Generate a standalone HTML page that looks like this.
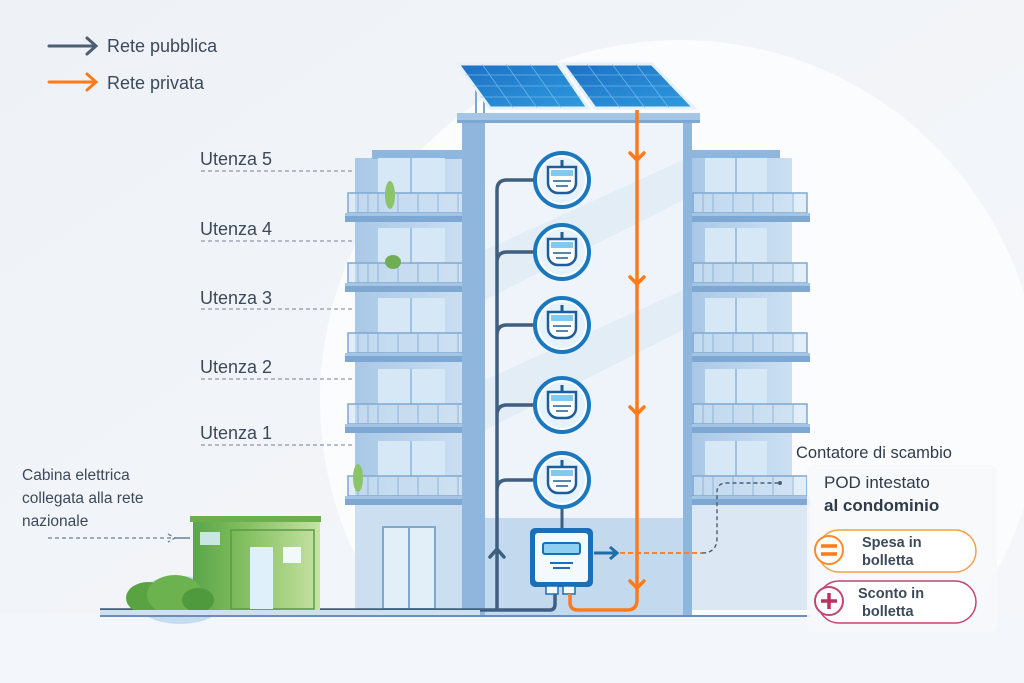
<!DOCTYPE html>
<html><head><meta charset="utf-8"><style>
html,body{margin:0;padding:0;background:#f3f6fa;width:1024px;height:683px;overflow:hidden;}
svg{display:block;font-family:"Liberation Sans",sans-serif;}
</style></head><body>
<svg width="1024" height="683" viewBox="0 0 1024 683" xmlns="http://www.w3.org/2000/svg">
<defs>
<linearGradient id="bg" x1="0" y1="0" x2="1" y2="1"><stop offset="0" stop-color="#eef2f7"/><stop offset="1" stop-color="#f5f7fa"/></linearGradient>
<linearGradient id="wall" x1="0" y1="0" x2="1" y2="0"><stop offset="0" stop-color="#a9c8e6"/><stop offset="1" stop-color="#cde0f2"/></linearGradient>
<linearGradient id="green" x1="0" y1="0" x2="1" y2="0"><stop offset="0" stop-color="#5aa54c"/><stop offset="0.35" stop-color="#7dbb5a"/><stop offset="1" stop-color="#c7e3a3"/></linearGradient>
<linearGradient id="panel" x1="0" y1="0" x2="1" y2="1"><stop offset="0" stop-color="#1e6fc2"/><stop offset="1" stop-color="#2d9be0"/></linearGradient>
<g id="balL">
 <rect x="378" y="-35" width="67" height="35" fill="#d6e7f6"/>
 <line x1="411" y1="-35" x2="411" y2="0" stroke="#9ec2e2" stroke-width="2"/>
 <rect x="348" y="0" width="120" height="20" fill="#d0e3f4" fill-opacity="0.6" stroke="#7fa8d0" stroke-width="1.5"/>
 <path d="M358 0v20M368 0v20M378 0v20M398 0v20M418 0v20M438 0v20M458 0v20" stroke="#8fb4d8" stroke-width="1"/>
 <rect x="345" y="20" width="126" height="9" fill="#7ea8d2"/>
 <rect x="345" y="20" width="126" height="3" fill="#a5c5e4"/>
</g>
<g id="balR">
 <rect x="705" y="-35" width="62" height="35" fill="#d6e7f6"/>
 <line x1="736" y1="-35" x2="736" y2="0" stroke="#9ec2e2" stroke-width="2"/>
 <rect x="693" y="0" width="114" height="20" fill="#d0e3f4" fill-opacity="0.6" stroke="#7fa8d0" stroke-width="1.5"/>
 <path d="M703 0v20M713 0v20M733 0v20M753 0v20M773 0v20M793 0v20" stroke="#8fb4d8" stroke-width="1"/>
 <rect x="692" y="20" width="118" height="9" fill="#7ea8d2"/>
 <rect x="692" y="20" width="118" height="3" fill="#a5c5e4"/>
</g>
<g id="meter">
 <circle r="27" fill="#ffffff" stroke="#1a78bf" stroke-width="4"/>
 <circle r="23" fill="#e6f3fc"/>
 <rect x="-1.5" y="-20" width="3" height="7" fill="#1e5d99"/>
 <path d="M-14 -13h28v16a10 10 0 0 1 -10 10h-8a10 10 0 0 1 -10 -10z" fill="#fff" stroke="#1e5d99" stroke-width="2.5"/>
 <rect x="-11" y="-10" width="22" height="6" fill="#7fcaf0"/>
 <path d="M-9 1h18M-6 6h12" stroke="#1e5d99" stroke-width="1.5"/>
</g>
<g id="ah"><path d="M-7 -7L0 0L7 -7" fill="none" stroke="#ff7a1a" stroke-width="3.5" stroke-linecap="round"/></g>
</defs>
<rect width="1024" height="683" fill="url(#bg)"/>
<circle cx="680" cy="400" r="360" fill="#fbfcfe"/>
<rect x="0" y="615" width="1024" height="68" fill="#f3f6fa"/>

<path d="M49 46H95M87 38L96 46L87 54" fill="none" stroke="#4b5e74" stroke-width="3" stroke-linecap="round"/>
<path d="M49 82H95M87 74L96 82L87 90" fill="none" stroke="#ff7a1a" stroke-width="3" stroke-linecap="round"/>
<text x="107" y="52" font-size="18" fill="#3d4a5a">Rete pubblica</text>
<text x="107" y="89" font-size="18" fill="#3d4a5a">Rete privata</text>

<g font-size="18" fill="#3d4a5a">
<text x="200" y="165">Utenza 5</text><text x="200" y="235">Utenza 4</text><text x="200" y="304">Utenza 3</text><text x="200" y="373">Utenza 2</text><text x="200" y="439">Utenza 1</text>
</g>
<g stroke="#8d99a8" stroke-width="1.2" stroke-dasharray="4 3">
<path d="M201 171H387M201 241H366M201 309H366M201 379H366M201 445H366"/>
</g>

<rect x="355" y="158" width="116" height="452" fill="url(#wall)"/>
<rect x="372" y="150" width="100" height="9" fill="#8fb6dc"/>
<use href="#balL" y="193"/><use href="#balL" y="263"/><use href="#balL" y="333"/><use href="#balL" y="404"/><use href="#balL" y="476"/>
<rect x="355" y="505" width="116" height="105" fill="#cbdff1"/>
<rect x="383" y="527" width="52" height="82" fill="#e2eff9" stroke="#7fa8d0" stroke-width="2"/>
<line x1="409" y1="527" x2="409" y2="609" stroke="#7fa8d0" stroke-width="2"/>
<ellipse cx="390" cy="195" rx="5" ry="14" fill="#8cc46a"/>
<ellipse cx="393" cy="262" rx="8" ry="7" fill="#6fae57"/>
<ellipse cx="358" cy="478" rx="5" ry="14" fill="#8cc46a"/>

<rect x="692" y="158" width="100" height="452" fill="url(#wall)"/>
<rect x="692" y="150" width="88" height="8" fill="#8fb6dc"/>
<use href="#balR" y="193"/><use href="#balR" y="263"/><use href="#balR" y="333"/><use href="#balR" y="404"/><use href="#balR" y="476"/>
<rect x="692" y="505" width="118" height="105" fill="#dbe8f4"/>

<rect x="462" y="122" width="230" height="493" fill="#8fb6dc"/>
<rect x="485" y="122" width="198" height="493" fill="#eef4fa"/>
<path d="M485 250L683 160V200L485 300Z M485 380L683 290V330L485 430Z" fill="#dde9f4" opacity="0.7"/>
<rect x="485" y="518" width="198" height="97" fill="#c3d9ee"/>
<rect x="457" y="113" width="243" height="10" fill="#a5c5e4"/>
<rect x="457" y="120" width="243" height="3" fill="#7ea8d2"/>

<path d="M476 88L476 113M484 100L484 113" stroke="#7ea8d2" stroke-width="2"/>
<polygon points="458,64 558,64 588,108 490,108" fill="url(#panel)" stroke="#e6f1fb" stroke-width="3"/>
<polygon points="563,64 652,64 694,108 595,108" fill="url(#panel)" stroke="#e6f1fb" stroke-width="3"/>
<g stroke="#8cc8f2" stroke-width="0.8" opacity="0.7">
<path d="M465 75H566M473 86H574M480 97H581M482 64L513 108M506 64L537 108M530 64L561 108"/>
<path d="M571 75H662M579 86H672M587 97H683M587 64L620 108M612 64L645 108M636 64L669 108"/>
</g>

<path d="M100 610H550Q555 610 555 604V592" fill="none" stroke="#3f5f80" stroke-width="3.5"/>
<path d="M497 610V190Q497 180 507 180H536 M497 262Q497 252 507 252H536 M497 335Q497 325 507 325H536 M497 415Q497 405 507 405H536 M497 490Q497 480 507 480H536" fill="none" stroke="#3f5f80" stroke-width="3.5"/>
<path d="M490 557L497 549L504 557" fill="none" stroke="#3f5f80" stroke-width="3.5" stroke-linecap="round"/>
<line x1="562" y1="500" x2="562" y2="530" stroke="#3f5f80" stroke-width="3"/>
<use href="#meter" x="562" y="180"/><use href="#meter" x="562" y="252"/><use href="#meter" x="562" y="325"/><use href="#meter" x="562" y="405"/><use href="#meter" x="562" y="480"/>

<rect x="530" y="528" width="63" height="59" rx="5" fill="#1a6fb8"/>
<rect x="535" y="533" width="53" height="49" rx="3" fill="#f4f9fd"/>
<rect x="543" y="543" width="37" height="11" rx="2" fill="#8fd0f2" stroke="#1a6fb8" stroke-width="2"/>
<path d="M550 563H573M553 568H570" stroke="#1a6fb8" stroke-width="2"/>
<rect x="546" y="586" width="12" height="8" fill="#f4f9fd" stroke="#1a6fb8" stroke-width="1.5"/>
<rect x="563" y="586" width="12" height="8" fill="#f4f9fd" stroke="#1a6fb8" stroke-width="1.5"/>
<path d="M594 553H617M610 547L617 553L610 559" fill="none" stroke="#1f6ea8" stroke-width="3"/>

<path d="M637 110V600Q637 610 627 610H578Q570 610 570 602V594" fill="none" stroke="#ff7a1a" stroke-width="3.5"/>
<use href="#ah" x="637" y="160"/><use href="#ah" x="637" y="284"/><use href="#ah" x="637" y="414"/><use href="#ah" x="637" y="588"/>
<path d="M620 553H702" stroke="#ff7a1a" stroke-width="1.8" stroke-dasharray="5 3"/>
<path d="M702 553Q717 553 717 538V492Q717 483 727 483H780" fill="none" stroke="#4b5e74" stroke-width="1.4" stroke-dasharray="4 3"/>
<circle cx="780" cy="483" r="2" fill="#4b5e74"/>

<ellipse cx="180" cy="600" rx="45" ry="24" fill="#c5dcf0"/>
<rect x="193" y="521" width="127" height="89" fill="url(#green)"/>
<rect x="190" y="516" width="131" height="6" fill="#6dae4f"/>
<rect x="231" y="530" width="83" height="79" fill="none" stroke="#5a9a48" stroke-width="1.5"/>
<rect x="250" y="547" width="23" height="62" fill="#dff0f8"/>
<rect x="283" y="547" width="18" height="16" fill="#f2f9fb"/>
<rect x="200" y="532" width="20" height="13" fill="#c9e6e0"/>
<path d="M48 538H175M168 534L175 538L168 542" fill="none" stroke="#6d7f93" stroke-width="1.3" stroke-dasharray="4 3"/>
<path d="M175 538H190" stroke="#6d7f93" stroke-width="1.5"/>
<ellipse cx="148" cy="598" rx="22" ry="16" fill="#5aa343"/>
<ellipse cx="175" cy="595" rx="28" ry="20" fill="#6cb24f"/>
<ellipse cx="198" cy="600" rx="16" ry="12" fill="#4f9a3c"/>
<rect x="100" y="610" width="380" height="5" fill="#d0e0ef"/>
<rect x="100" y="615" width="710" height="2" fill="#6b8fb8"/>
<g font-size="15.5" fill="#3d4a5a"><text x="22" y="480">Cabina elettrica</text><text x="22" y="503">collegata alla rete</text><text x="22" y="526">nazionale</text></g>

<text x="796" y="458" font-size="16.5" fill="#2f3b4a">Contatore di scambio</text>
<rect x="807" y="465" width="190" height="167" rx="6" fill="#f6f8fb" opacity="0.9"/>
<text x="824" y="488" font-size="17" fill="#2f3b4a">POD intestato</text>
<text x="824" y="511" font-size="17" font-weight="bold" fill="#2f3b4a">al condominio</text>
<rect x="818" y="530" width="158" height="42" rx="21" fill="#fff" stroke="#f4a04a" stroke-width="1.5"/>
<circle cx="829" cy="550" r="14" fill="#fff" stroke="#ff8a2a" stroke-width="2"/>
<path d="M821 546H837M821 554H837" stroke="#ff7a1a" stroke-width="3.5"/>
<text x="862" y="547" font-size="14.5" font-weight="bold" fill="#3d4a5a">Spesa in</text>
<text x="862" y="565" font-size="14.5" font-weight="bold" fill="#3d4a5a">bolletta</text>
<rect x="818" y="581" width="158" height="42" rx="21" fill="#fff" stroke="#c2466f" stroke-width="1.5"/>
<circle cx="829" cy="601" r="14" fill="#fff" stroke="#c2466f" stroke-width="2"/>
<path d="M821 601H837M829 593V609" stroke="#b8325f" stroke-width="3.5"/>
<text x="858" y="598" font-size="14.5" font-weight="bold" fill="#3d4a5a">Sconto in</text>
<text x="862" y="616" font-size="14.5" font-weight="bold" fill="#3d4a5a">bolletta</text>
</svg>
</body></html>
